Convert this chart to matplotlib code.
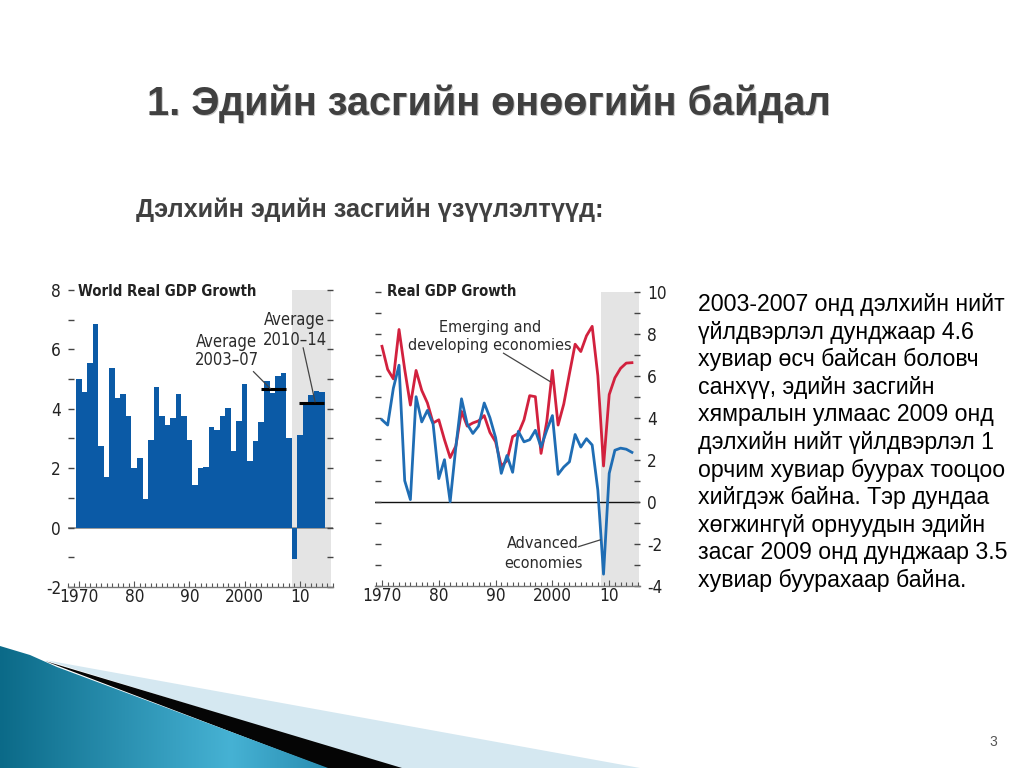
import numpy as np
import matplotlib
matplotlib.use('Agg')
import matplotlib.pyplot as plt
from matplotlib.patches import Polygon
from matplotlib.ticker import MultipleLocator, FixedLocator
from matplotlib import font_manager as fm

# ---------------- data ----------------
years = list(range(1970, 2015))
world_growth = [5.0, 4.55, 5.55, 6.85, 2.75, 1.72, 5.38, 4.35, 4.5, 3.75,
                2.0, 2.35, 0.95, 2.95, 4.75, 3.75, 3.47, 3.7, 4.5, 3.75,
                2.95, 1.45, 2.0, 2.05, 3.38, 3.3, 3.75, 4.02, 2.58, 3.6,
                4.82, 2.25, 2.9, 3.57, 4.92, 4.53, 5.11, 5.2, 3.0, -1.07,
                3.12, 4.2, 4.45, 4.6, 4.55]
emerging_growth = [7.4, 6.3, 5.85, 8.2, 6.3, 4.6, 6.25, 5.3, 4.7, 3.75,
                   3.9, 2.95, 2.1, 2.65, 4.3, 3.6, 3.75, 3.85, 4.1, 3.3,
                   2.85, 1.7, 1.95, 3.1, 3.25, 3.9, 5.05, 5.0, 2.3, 3.8,
                   6.25, 3.65, 4.65, 6.1, 7.5, 7.15, 7.9, 8.35, 6.0, 1.7,
                   5.1, 5.9, 6.35, 6.6, 6.62]
advanced_growth = [3.9, 3.65, 5.4, 6.5, 1.0, 0.1, 5.0, 3.8, 4.35, 3.7,
                   1.1, 2.0, 0.0, 2.6, 4.9, 3.7, 3.25, 3.6, 4.7, 4.0,
                   3.05, 1.35, 2.2, 1.4, 3.35, 2.85, 2.95, 3.4, 2.6, 3.4,
                   4.1, 1.3, 1.65, 1.9, 3.2, 2.6, 3.0, 2.7, 0.55, -3.45,
                   1.35, 2.45, 2.55, 2.5, 2.35]
avg_2003_07 = 4.66
avg_2010_14 = 4.19
left_yticks = [-2, 0, 2, 4, 6, 8]
right_yticks = [-4, -2, 0, 2, 4, 6, 8, 10]
decade_ticks = [1970, 1980, 1990, 2000, 2010]
decade_labels = ['1970', '80', '90', '2000', '10']

slide_title = "1. Эдийн засгийн өнөөгийн байдал"
slide_subtitle = "Дэлхийн эдийн засгийн үзүүлэлтүүд:"
body_lines = ["2003-2007 онд дэлхийн нийт",
              "үйлдвэрлэл дунджаар 4.6",
              "хувиар өсч байсан боловч",
              "санхүү, эдийн засгийн",
              "хямралын улмаас 2009 онд",
              "дэлхийн нийт үйлдвэрлэл 1",
              "орчим хувиар буурах тооцоо",
              "хийгдэж байна. Тэр дундаа",
              "хөгжингүй орнуудын эдийн",
              "засаг 2009 онд дунджаар 3.5",
              "хувиар буурахаар байна."]

# ---------------- style ----------------
SANS = ['Liberation Sans', 'DejaVu Sans']
plt.rcParams['font.family'] = SANS
installed = {f.name for f in fm.fontManager.ttflist}
if 'Liberation Sans Narrow' in installed:
    NARROW = ['Liberation Sans Narrow', 'DejaVu Sans']
    NSTRETCH = 'normal'
    NSCALE = 1.0
else:
    NARROW = ['DejaVu Sans', 'Liberation Sans']
    NSTRETCH = 'condensed'
    NSCALE = 0.95
BAR_C = '#0b5aa6'
RED_C = '#d2213e'
BLUE_C = '#1f6db4'
SHADE_C = '#e4e4e4'
TXT_C = '#2b2b2b'

W, H = 1024, 768
fig = plt.figure(figsize=(10.24, 7.68), dpi=100)


def fx(px):
    return px / W


def fy(py):
    return 1 - py / H


def ntext(target, x, y, s, size, **kw):
    return target.text(x, y, s, fontsize=size * NSCALE, family=NARROW,
                       fontstretch=NSTRETCH, **kw)


# ---------------- background decoration ----------------
bg = fig.add_axes([0, 0, 1, 1], zorder=-5)
bg.set_xlim(0, W)
bg.set_ylim(H, 0)
bg.axis('off')

light = Polygon([(45, 660), (640, 768), (395, 768)], closed=True,
                facecolor='#d5e8f1', edgecolor='none')
bg.add_patch(light)
black = Polygon([(45, 661), (402, 768), (326, 768)], closed=True,
                facecolor='#050505', edgecolor='none')
bg.add_patch(black)
teal_poly = Polygon([(0, 646), (30, 655), (57, 667), (328, 768), (0, 768)],
                    closed=True, facecolor='none', edgecolor='none')
bg.add_patch(teal_poly)
xs = np.linspace(0, 1, 300)
c0 = np.array([0x0b, 0x6a, 0x88]) / 255
c1 = np.array([0x46, 0xb2, 0xd4]) / 255
c2 = np.array([0x28, 0x8c, 0xb0]) / 255
grad = np.zeros((1, 300, 3))
for i, t in enumerate(xs):
    if t < 0.7:
        grad[0, i] = c0 + (c1 - c0) * (t / 0.7)
    else:
        grad[0, i] = c1 + (c2 - c1) * ((t - 0.7) / 0.3)
im = bg.imshow(grad, extent=[0, 330, 768, 640], aspect='auto', zorder=1)
im.set_clip_path(teal_poly)
bg.set_xlim(0, W)
bg.set_ylim(H, 0)

# ---------------- slide texts ----------------
fig.text(fx(148.5), fy(116.5), slide_title, fontsize=28.5, fontweight='bold',
         color='#c8c8c8', ha='left', va='baseline', family=SANS)
fig.text(fx(147), fy(115), slide_title, fontsize=28.5, fontweight='bold',
         color='#404040', ha='left', va='baseline', family=SANS)
fig.text(fx(136), fy(217), slide_subtitle, fontsize=18.2, fontweight='bold',
         color='#404040', ha='left', va='baseline', family=SANS)
for i, line in enumerate(body_lines):
    fig.text(fx(698), fy(311 + 27.6 * i), line, fontsize=16.7, color='black',
             ha='left', va='baseline', family=SANS)
fig.text(fx(993), fy(742), '3', fontsize=10, color='#555555',
         ha='center', va='center', family=SANS)


def style_ticklabels(ax):
    for lab in ax.get_xticklabels() + ax.get_yticklabels():
        lab.set_family(NARROW)
        lab.set_fontstretch(NSTRETCH)
        lab.set_fontsize(13 * NSCALE)


# ---------------- left chart ----------------
axL = fig.add_axes([fx(68), fy(587), 265 / W, 297 / H])
axL.set_xlim(1968.0, 2016.0)
axL.set_ylim(-2, 8)
axL.axvspan(2008.5, 2015.6, color=SHADE_C, lw=0, zorder=0)
axL.axhline(0, color='#8a8a8a', lw=1.2, zorder=1)
axL.bar(years, world_growth, width=1.0, color=BAR_C, linewidth=0, zorder=2)
axL.hlines(avg_2003_07, 2002.9, 2007.4, color='black', lw=2.2, zorder=4)
axL.hlines(avg_2010_14, 2009.8, 2014.4, color='black', lw=2.2, zorder=4)
for s in ['top', 'left', 'right']:
    axL.spines[s].set_visible(False)
axL.spines['bottom'].set_color('#777777')
axL.spines['bottom'].set_linewidth(1.0)
axL.yaxis.set_major_locator(FixedLocator(left_yticks))
axL.yaxis.set_minor_locator(MultipleLocator(1))
axL.set_yticklabels([str(v) for v in left_yticks])
axL.tick_params(axis='y', which='both', direction='in', length=4, width=1,
                left=True, right=True, labelleft=True, color='#444444',
                pad=5, labelcolor='#222222')
axL.xaxis.set_major_locator(FixedLocator(decade_ticks))
axL.set_xticklabels(decade_labels)
axL.xaxis.set_minor_locator(MultipleLocator(1))
axL.tick_params(axis='x', which='major', direction='in', length=4.5, width=0.8,
                color='#555555', pad=1, labelcolor='#222222')
axL.tick_params(axis='x', which='minor', direction='in', length=3, width=0.8,
                color='#555555')
style_ticklabels(axL)

ntext(axL, 1996.75, 6.07, 'Average', 12.5, ha='center', va='baseline',
      color=TXT_C, zorder=5)
ntext(axL, 1996.75, 5.47, '2003–07', 12.5, ha='center', va='baseline',
      color=TXT_C, zorder=5)
axL.plot([2001.6, 2004.6], [5.25, 4.69], color='#444444', lw=0.9, zorder=5)
ntext(axL, 2009.1, 6.82, 'Average', 12.5, ha='center', va='baseline',
      color=TXT_C, zorder=5)
ntext(axL, 2009.1, 6.15, '2010–14', 12.5, ha='center', va='baseline',
      color=TXT_C, zorder=5)
axL.plot([2010.6, 2012.75], [6.05, 4.24], color='#444444', lw=0.9, zorder=5)

ntext(fig, fx(78), fy(292), 'World Real GDP Growth', 11.3,
      fontweight='bold', color='#222222', ha='left', va='center')

# ---------------- right chart ----------------
axR = fig.add_axes([fx(375), fy(585.7), 265 / W, 294 / H])
axR.set_xlim(1968.77, 2015.42)
axR.set_ylim(-4, 10)
axR.axvspan(2008.5, 2015.25, color=SHADE_C, lw=0, zorder=0)
axR.axhline(0, color='#111111', lw=1.0, zorder=1)
axR.plot(years, emerging_growth, color=RED_C, lw=2.0, zorder=3)
axR.plot(years, advanced_growth, color=BLUE_C, lw=2.0, zorder=3)
for s in ['top', 'left', 'right']:
    axR.spines[s].set_visible(False)
axR.spines['bottom'].set_color('#777777')
axR.spines['bottom'].set_linewidth(1.0)
axR.yaxis.set_major_locator(FixedLocator(right_yticks))
axR.yaxis.set_minor_locator(MultipleLocator(1))
axR.set_yticklabels([str(v) for v in right_yticks])
axR.tick_params(axis='y', which='both', direction='in', length=4, width=1,
                left=True, right=True, labelleft=False, labelright=True,
                color='#444444', pad=5, labelcolor='#222222')
axR.xaxis.set_major_locator(FixedLocator(decade_ticks))
axR.set_xticklabels(decade_labels)
axR.xaxis.set_minor_locator(MultipleLocator(1))
axR.tick_params(axis='x', which='major', direction='in', length=4.5, width=0.8,
                color='#555555', pad=1, labelcolor='#222222')
axR.tick_params(axis='x', which='minor', direction='in', length=3, width=0.8,
                color='#555555')
style_ticklabels(axR)

ntext(axR, 1989.0, 8.08, 'Emerging and', 12.2, ha='center', va='baseline',
      color=TXT_C, zorder=5)
ntext(axR, 1989.0, 7.22, 'developing economies', 12.2, ha='center',
      va='baseline', color=TXT_C, zorder=5)
axR.plot([1991.4, 1999.6], [7.07, 5.72], color='#444444', lw=0.9, zorder=5)
ntext(axR, 1998.4, -2.22, 'Advanced', 12.2, ha='center', va='baseline',
      color=TXT_C, zorder=5)
ntext(axR, 1998.4, -3.17, 'economies', 12.2, ha='center', va='baseline',
      color=TXT_C, zorder=5)
axR.plot([2004.6, 2008.4], [-2.14, -1.82], color='#444444', lw=0.9, zorder=5)

ntext(fig, fx(387), fy(292), 'Real GDP Growth', 11.3,
      fontweight='bold', color='#222222', ha='left', va='center')

fig.savefig('out.png', dpi=100)
